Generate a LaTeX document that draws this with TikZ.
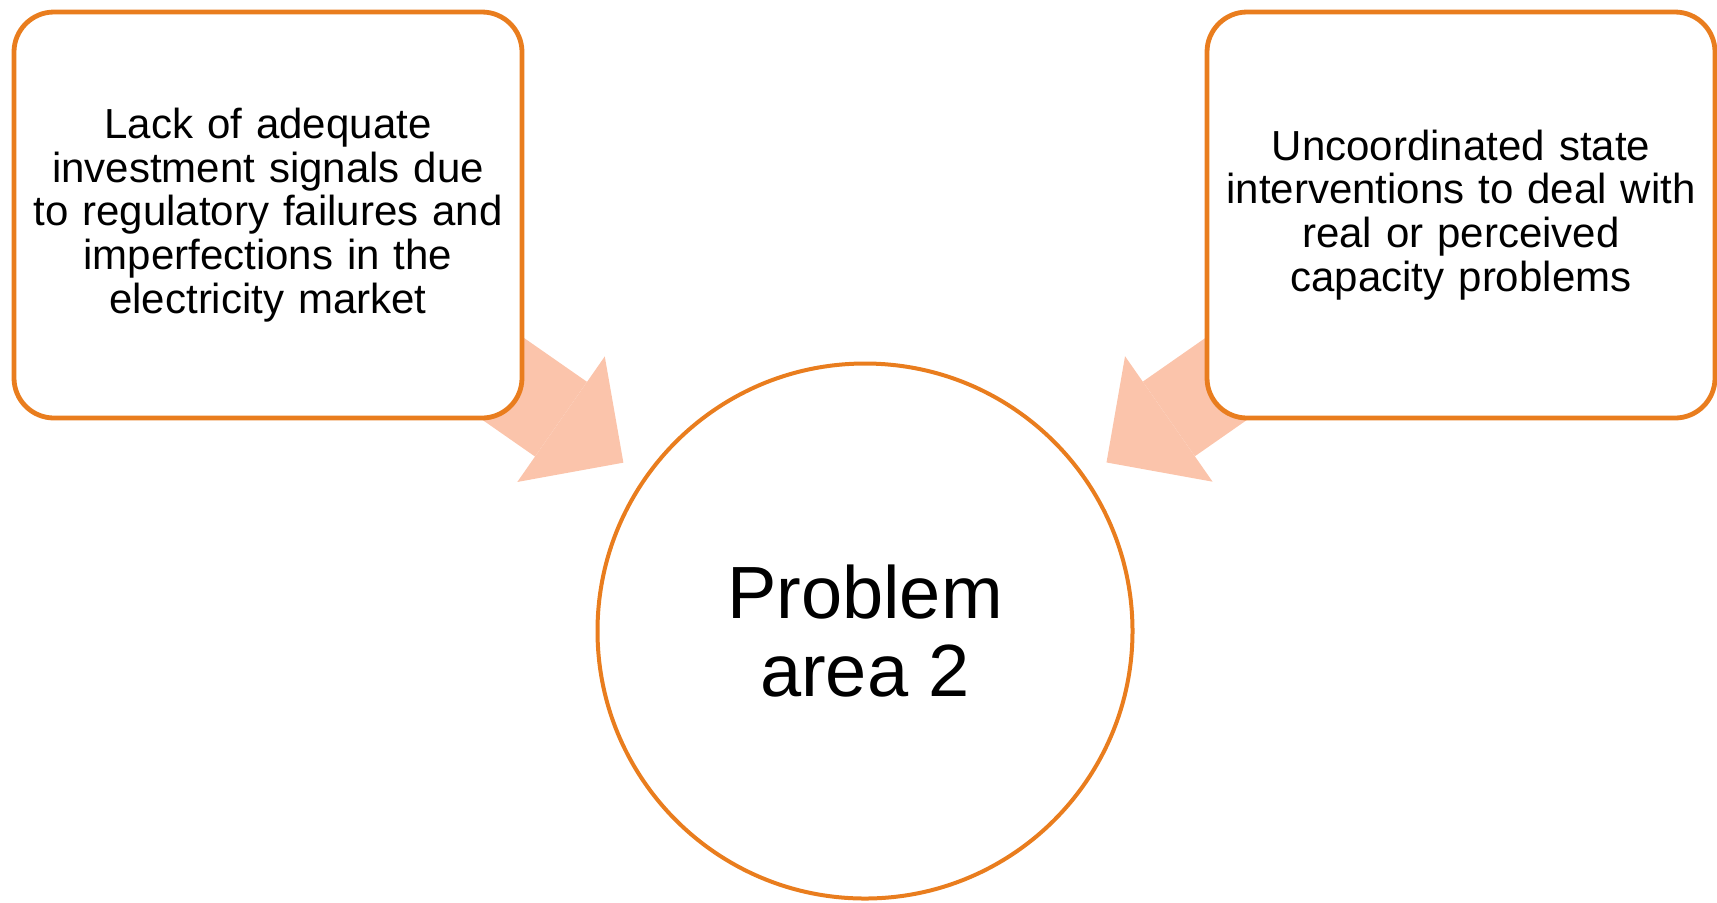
\documentclass[tikz,border=0pt]{standalone}
\usepackage{fontspec}
\setmainfont{Liberation Sans}
\usetikzlibrary{arrows.meta, backgrounds}
\definecolor{causeorange}{RGB}{233,125,30}
\definecolor{arrowpeach}{RGB}{251,196,171}
\tikzset{
  cause/.style={
    rectangle, rounded corners=20pt, minimum width=254pt, minimum height=203pt,
    text width=240pt, inner sep=2pt, align=center, draw=causeorange,
    line width=2.4pt, fill=white, font=\fontsize{21}{21.9}\selectfont
  },
  problem/.style={
    circle, minimum size=267.5pt, align=center, draw=causeorange,
    line width=2pt, fill=white, font=\fontsize{37}{39}\selectfont
  },
  bigarrow/.style={
    draw=arrowpeach, line width=45.5pt,
    -{Triangle[width=76.5pt,length=38pt,line width=0pt]}, shorten >=12.5pt
  }
}

\begin{document}
\begin{tikzpicture}[x=0.5pt, y=-0.5pt]
      \useasboundingbox (0,0) rectangle (1717,902);

      % Cause boxes
      \node[cause] (lack) at (268,215) {Lack of adequate\\investment signals due\\to regulatory failures and\\imperfections in the\\electricity market};
      \node[cause] (state) at (1461,215) {Uncoordinated state\\interventions to deal with\\real or perceived\\capacity problems};

      % Problem circle
      \node[problem] (prob) at (865,631) {Problem\\area 2};

      % Arrows
      \begin{scope}[on background layer]
        \draw[bigarrow] (lack.center) -- (prob);
        \draw[bigarrow] (state.center) -- (prob);
      \end{scope}
    \end{tikzpicture}
\end{document}
